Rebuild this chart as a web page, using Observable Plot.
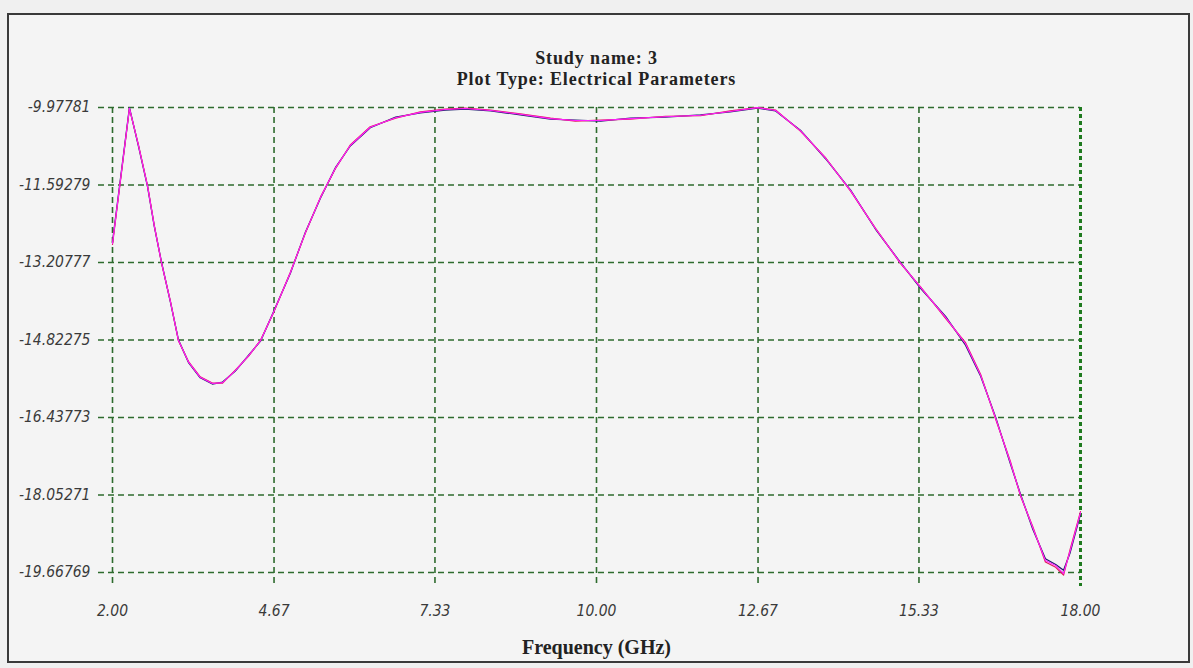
<!DOCTYPE html>
<html><head><meta charset="utf-8">
<script src="https://cdn.jsdelivr.net/npm/d3@7"></script>
<script src="https://cdn.jsdelivr.net/npm/@observablehq/plot@0.6"></script>
<style>
html,body{margin:0;padding:0;background:#f0f0f0;}
#wrap{position:relative;width:1193px;height:668px;background:#f0f0f0;overflow:hidden;}
#panel{position:absolute;left:7px;top:13px;width:1179px;height:646px;border:2px solid #3a3a3a;background:#f4f4f4;}
#chart{position:absolute;left:0;top:0;}
.t{position:absolute;left:0;width:1193px;text-align:center;font-family:"Liberation Serif","Times New Roman",serif;font-weight:bold;color:#222;}
.title{font-size:18px;line-height:21px;letter-spacing:0.9px;}
.xl{font-size:20px;line-height:20px;}
</style></head><body>
<div id="wrap"><div id="panel"></div><div id="chart"></div>
<div class="t title" style="top:48px">Study name: 3<br>Plot Type: Electrical Parameters</div>
<div class="t xl" style="top:637px">Frequency (GHz)</div>
</div>
<script>
const xTicks = [2.00, 4.67, 7.33, 10.00, 12.67, 15.33, 18.00];
const yTicks = [-9.97781, -11.59279, -13.20777, -14.82275, -16.43773, -18.05271, -19.66769];
const freq = [2.00,2.13,2.28,2.43,2.58,2.69,2.81,2.96,3.09,3.26,3.45,3.65,3.82,4.03,4.25,4.45,4.66,4.94,5.19,5.44,5.69,5.93,6.26,6.68,7.09,7.50,7.83,8.25,8.74,9.24,9.65,10.07,10.56,11.14,11.72,12.21,12.66,12.96,13.37,13.79,14.20,14.61,15.02,15.36,15.77,16.10,16.35,16.60,16.84,17.01,17.21,17.42,17.59,17.72,17.83,18.00];
const seriesMagenta = [-12.81,-11.50,-9.99,-10.77,-11.62,-12.44,-13.21,-14.04,-14.83,-15.29,-15.60,-15.73,-15.71,-15.46,-15.15,-14.83,-14.25,-13.42,-12.58,-11.85,-11.23,-10.77,-10.39,-10.19,-10.08,-10.02,-10.00,-10.04,-10.12,-10.21,-10.25,-10.25,-10.21,-10.17,-10.14,-10.06,-9.98,-10.04,-10.46,-11.04,-11.71,-12.50,-13.21,-13.73,-14.35,-14.90,-15.56,-16.46,-17.37,-18.06,-18.73,-19.42,-19.52,-19.69,-19.21,-18.42];
const seriesNavy = [-12.78,-11.48,-9.98,-10.79,-11.63,-12.45,-13.20,-14.05,-14.82,-15.30,-15.61,-15.74,-15.70,-15.47,-15.14,-14.84,-14.24,-13.43,-12.57,-11.86,-11.22,-10.78,-10.40,-10.18,-10.09,-10.03,-10.01,-10.05,-10.13,-10.22,-10.24,-10.26,-10.20,-10.18,-10.13,-10.07,-9.99,-10.05,-10.45,-11.05,-11.70,-12.51,-13.20,-13.75,-14.33,-14.93,-15.58,-16.44,-17.40,-18.04,-18.76,-19.38,-19.50,-19.62,-19.25,-18.45];
const seriesRed = [-12.83,-11.52,-10.00,-10.76,-11.61,-12.43,-13.22,-14.03,-14.84,-15.28,-15.59,-15.72,-15.72,-15.45,-15.16,-14.82,-14.26,-13.41,-12.59,-11.84,-11.24,-10.76,-10.38,-10.20,-10.07,-10.01,-9.99,-10.03,-10.11,-10.20,-10.26,-10.24,-10.22,-10.16,-10.15,-10.05,-9.98,-10.03,-10.47,-11.03,-11.72,-12.49,-13.22,-13.72,-14.37,-14.88,-15.54,-16.48,-17.35,-18.08,-18.71,-19.45,-19.56,-19.72,-19.18,-18.40];

const mk = (vals) => freq.map((f, i) => ({f, v: vals[i]}));
const gridColor = "#2e6b2e";
const tickFont = {fontSize: 15.5, fontStyle: "italic", fill: "#3a3a3a", fontFamily: "Liberation Sans Narrow, DejaVu Sans Condensed, Liberation Sans, sans-serif"};

const chart = Plot.plot({
  width: 1193, height: 668,
  marginLeft: 112, marginRight: 113, marginTop: 107, marginBottom: 96,
  style: {background: "transparent", overflow: "visible"},
  x: {domain: [2, 18]},
  y: {domain: [-19.66769, -9.97781]},
  marks: [
    Plot.ruleY(yTicks, {stroke: gridColor, strokeWidth: 1.6, strokeDasharray: "6,4", insetLeft: -14}),
    Plot.ruleX(xTicks.slice(0, -1), {stroke: gridColor, strokeWidth: 1.6, strokeDasharray: "6,4", insetBottom: -14}),
    Plot.ruleX(xTicks.slice(-1), {stroke: "#1f7a1f", strokeWidth: 3, strokeDasharray: "4,3", insetBottom: -14}),
    Plot.axisY(yTicks, {tickSize: 0, tickPadding: 22, tickFormat: d => d.toFixed(5), label: null, ...tickFont}),
    Plot.axisX(xTicks, {tickSize: 0, tickPadding: 32, tickFormat: d => d.toFixed(2), label: null, ...tickFont}),
    Plot.line(mk(seriesNavy), {x: "f", y: "v", stroke: "#1b1f6b", strokeWidth: 1.3}),
    Plot.line(mk(seriesRed), {x: "f", y: "v", stroke: "#e0185a", strokeWidth: 1.2}),
    Plot.line(mk(seriesMagenta), {x: "f", y: "v", stroke: "#ff20ff", strokeWidth: 1.1})
  ]
});
d3.select(chart).selectAll("text").style("font-style", "italic");
document.getElementById("chart").appendChild(chart);
</script>
</body></html>
